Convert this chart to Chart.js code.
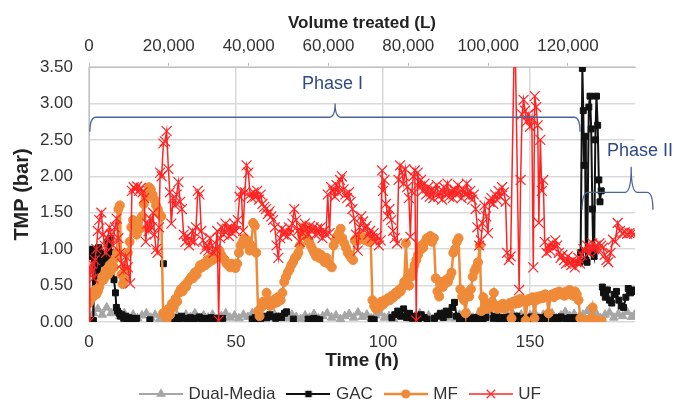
<!DOCTYPE html>
<html>
<head>
<meta charset="utf-8">
<script src="https://cdn.jsdelivr.net/npm/chart.js@4.4.0/dist/chart.umd.min.js"></script>
<style>
  html, body { margin: 0; padding: 0; background: #fff; }
  canvas { display: block; }
</style>
</head>
<body>
<canvas id="tmpChart" width="678" height="403"></canvas>
<script>
// [time (h), TMP (bar)]; null = gap in the series
const dualMedia = [
  [0,0.05],[1.5,0.12],[3,0.18],[4.5,0.10],[6,0.20],[7.5,0.12],[9,0.16],[10.5,0.08],[12,0.12],[13.5,0.06],
  [15,0.10],[16.5,0.05],[18,0.09],[19.5,0.12],[21,0.06],[22.5,0.10],[24,0.04],[25.5,0.08],[27,0.12],[28.5,0.06],
  [30,0.09],[31.5,0.05],[33,0.10],[34.5,0.07],[36,0.12],[37.5,0.05],[39,0.09],[40.5,0.06],[42,0.10],[43.5,0.04],
  [45,0.08],[46.5,0.12],[48,0.06],[49.5,0.09],[51,0.05],[52.5,0.10],[54,0.07],[55.5,0.12],[57,0.06],[58.5,0.09],
  [60,0.04],[61.5,0.08],[63,0.11],[64.5,0.06],[66,0.09],[67.5,0.05],[69,0.10],[70.5,0.07],[72,0.04],[73.5,0.09],
  [75,0.06],[76.5,0.11],[78,0.05],[79.5,0.08],[81,0.12],[82.5,0.06],[84,0.09],[85.5,0.04],[87,0.08],[88.5,0.11],
  [90,0.06],[91.5,0.13],[93,0.07],[94.5,0.10],[96,0.05],[97.5,0.09],[99,0.12],[100.5,0.06],[102,0.08],[103.5,0.04],
  [105,0.10],[106.5,0.07],[108,0.11],[109.5,0.05],[111,0.08],[112.5,0.12],[114,0.06],[115.5,0.09],[117,0.04],[118.5,0.08],
  [120,0.11],[121.5,0.06],[123,0.09],[124.5,0.05],[126,0.10],[127.5,0.07],[129,0.12],[130.5,0.06],[132,0.08],[133.5,0.04],
  [135,0.09],[136.5,0.12],[138,0.06],[139.5,0.10],[141,0.05],[142.5,0.08],[144,0.12],[145.5,0.07],[147,0.10],[148.5,0.05],
  [150,0.09],[151.5,0.13],[153,0.06],[154.5,0.10],[156,0.07],[157.5,0.12],[159,0.05],[160.5,0.09],[162,0.14],[163.5,0.08],
  [165,0.11],[166.5,0.06],[168,0.10],[169.5,0.15],[171,0.07],[172.5,0.12],[174,0.05],[175.5,0.10],[177,0.13],[178.5,0.06],
  [180,0.11],[181.5,0.08],[183,0.14],[184.5,0.07],[185.5,0.10]
];

const gac = [
  [0.0,0.95],[0.4,0.98],[0.8,0.90],[1.2,1.00],[1.5,0.02],[1.8,0.85],[2.2,0.95],[2.6,0.58],[3.0,0.50],[3.3,1.02],
  [3.7,0.60],[4.1,0.95],[4.5,0.85],[5.0,0.80],[5.5,0.88],[6.0,0.82],[6.4,1.10],[6.8,0.90],[7.2,1.15],[7.6,0.95],
  [8.0,0.82],[8.5,0.58],[9.0,0.40],[9.3,0.20],[9.7,0.15],[10.2,0.12],[10.7,0.08],[11.2,0.10],[11.8,0.05],[12.4,0.08],
  [13.0,0.04],[13.6,0.06],[14.3,0.03],[15.0,0.05],[15.6,0.03],[16.2,0.05],[18.0,null],[20.7,0.03],[22.0,null],[25.3,0.80],
  [26.5,null],[27.5,0.05],[28.5,0.03],[29.5,0.06],[30.5,0.04],[31.5,0.08],[32.5,0.05],[33.5,0.03],[34.5,0.06],[35.5,0.04],
  [36.5,0.05],[37.5,0.07],[38.5,0.04],[39.5,0.05],[40.5,0.03],[41.5,0.06],[42.5,0.04],[43.5,0.05],[44.5,0.03],[45.5,0.05],
  [50.0,null],[55.5,0.04],[56.5,0.06],[57.5,0.03],[58.5,0.05],[59.5,0.08],[60.5,0.06],[61.5,0.10],[62.5,0.07],[63.5,0.05],
  [64.5,0.08],[65.5,0.06],[66.5,0.12],[67.2,0.14],[68.0,null],[69.5,0.04],[71.0,null],[74.5,0.04],[75.5,0.03],[76.5,0.05],
  [77.5,0.04],[78.5,0.03],[85.0,null],[96.0,0.04],[97.0,0.03],[99.0,null],[103.0,0.06],[104.0,0.10],[105.0,0.15],[106.0,0.08],
  [107.0,0.18],[108.0,0.06],[109.0,0.12],[110.0,0.05],[111.0,0.08],[112.0,0.04],[113.0,0.10],[114.0,0.06],[115.0,0.04],[116.0,null],
  [117.5,0.05],[118.5,0.08],[119.5,0.12],[120.5,0.06],[121.5,0.15],[122.5,0.10],[123.5,0.20],[124.3,0.27],[125.0,0.08],[126.0,0.04],
  [127.0,0.06],[128.0,0.03],[129.0,0.05],[130.0,0.04],[131.0,0.06],[132.0,0.03],[133.0,0.05],[134.0,0.04],[135.0,0.06],[136.4,0.20],
  [137.5,0.05],[138.5,0.08],[139.5,0.04],[140.5,0.06],[141.5,0.03],[142.5,0.07],[143.5,0.05],[144.5,0.04],[145.5,0.08],[146.5,0.05],
  [147.5,0.03],[148.5,0.06],[149.5,0.04],[150.5,0.07],[151.5,0.05],[152.5,0.03],[153.5,0.06],[154.5,0.04],[155.5,0.08],[156.5,0.05],
  [157.5,0.03],[158.5,0.06],[159.5,0.04],[160.5,0.07],[161.5,0.05],[162.5,0.03],[163.5,0.06],[164.5,0.04],[165.5,0.06],[166.3,0.04],
  [166.6,null],[166.8,0.82],[167.2,0.95],[167.8,3.48],[168.1,2.90],[168.4,2.15],[168.7,2.55],[169.0,0.85],[169.4,0.82],[170.0,2.95],
  [170.4,3.10],[170.8,2.65],[171.2,1.55],[171.5,0.95],[171.8,0.90],[172.2,2.50],[172.6,3.10],[173.0,2.70],[173.4,1.95],[173.8,1.65],
  [174.2,1.80],[174.4,null],[174.6,0.48],[175.0,0.40],[175.6,0.34],[176.3,0.44],[177.0,0.30],[177.8,0.26],[178.6,0.38],[179.4,0.42],
  [180.2,0.30],[181.0,0.22],[181.8,0.20],[182.6,0.34],[183.4,0.46],[184.2,0.40],[185.0,0.44],[185.6,0.42]
];

const mf = [
  [0.0,0.26],[0.5,0.30],[1.0,0.40],[1.5,0.35],[2.0,0.44],[2.5,0.38],[3.0,0.42],[3.5,0.48],[4.0,0.55],[4.5,0.62],
  [5.0,0.58],[5.5,0.68],[6.0,0.72],[6.5,0.65],[7.0,0.78],[7.5,0.70],[8.0,0.82],[8.5,0.75],[9.0,0.88],[9.5,0.95],
  [10.0,1.55],[10.5,1.60],[11.0,0.65],[11.5,0.52],[12.0,0.58],[12.6,0.72],[13.2,0.95],[13.8,1.10],[14.4,1.30],[15.0,1.40],
  [15.6,1.32],[16.2,1.20],[16.8,1.38],[17.4,1.28],[18.0,1.45],[18.6,1.62],[19.2,1.70],[19.8,1.78],[20.4,1.85],[21.0,1.82],
  [21.6,1.75],[22.2,1.68],[22.8,1.60],[23.4,1.55],[24.0,1.48],[24.6,1.45],[25.2,0.12],[25.8,0.08],[26.4,0.03],[27.0,0.18],
  [27.6,0.10],[28.2,0.25],[28.8,0.20],[29.4,0.32],[30.0,0.28],[30.6,0.40],[31.2,0.45],[31.8,0.42],[32.4,0.50],[33.0,0.48],
  [33.6,0.55],[34.2,0.58],[34.8,0.62],[35.4,0.60],[36.0,0.68],[36.6,0.65],[37.2,0.72],[37.8,0.78],[38.4,0.75],[39.0,0.80],
  [39.6,0.78],[40.2,0.85],[40.8,0.82],[41.4,0.88],[42.0,0.85],[42.6,0.92],[43.2,0.88],[43.8,0.95],[44.4,0.98],[45.0,0.92],
  [45.6,0.88],[46.2,0.85],[46.8,0.80],[47.4,0.78],[48.0,0.75],[48.6,0.80],[49.2,0.76],[49.8,0.74],[50.4,0.80],[51.0,0.95],
  [51.6,1.05],[52.2,1.10],[52.8,1.15],[53.4,1.08],[54.0,1.12],[54.6,0.98],[55.2,1.05],[55.8,1.36],[56.4,1.32],[56.9,0.95],
  [57.5,0.15],[58.0,0.08],[58.6,0.20],[59.2,0.28],[59.8,0.25],[60.4,0.40],[61.0,0.30],[61.6,0.22],[62.2,0.28],[62.8,0.25],
  [63.4,0.32],[64.0,0.27],[64.6,0.35],[65.2,0.30],[65.8,0.40],[66.4,0.55],[67.0,0.62],[67.6,0.68],[68.2,0.72],[68.8,0.78],
  [69.4,0.82],[70.0,0.88],[70.6,0.90],[71.2,0.95],[71.8,1.05],[72.4,1.20],[73.0,1.30],[73.6,1.22],[74.2,1.15],[74.8,1.10],
  [75.4,1.05],[76.0,1.00],[76.6,0.95],[77.2,0.90],[77.8,0.95],[78.4,0.88],[79.0,0.92],[79.6,0.85],[80.2,0.82],[80.8,0.88],
  [81.4,0.80],[82.0,0.78],[82.6,0.75],[83.2,1.05],[83.8,1.12],[84.4,1.18],[85.0,1.22],[85.6,1.28],[86.2,1.15],[86.8,1.08],
  [87.4,1.02],[88.0,0.95],[88.6,0.92],[89.2,0.88],[89.8,0.85],[90.4,1.12],[91.0,1.15],[91.6,1.12],[92.2,1.18],[92.8,1.14],
  [93.4,1.16],[94.0,1.12],[94.6,1.15],[95.2,1.10],[95.8,1.12],[96.4,0.30],[97.0,0.22],[97.6,0.18],[98.2,0.25],[98.8,0.20],
  [99.4,0.28],[100.0,0.24],[100.6,0.30],[101.2,0.28],[101.8,0.33],[102.4,0.30],[103.0,0.36],[103.6,0.34],[104.2,0.40],[104.8,0.38],
  [105.4,0.44],[106.0,0.42],[106.6,0.48],[107.2,0.55],[107.8,1.08],[108.3,0.60],[108.9,0.50],[109.5,0.62],[110.1,0.70],[110.7,0.78],
  [111.3,0.85],[111.9,0.92],[112.5,0.98],[113.1,1.05],[113.7,1.02],[114.3,1.10],[114.9,1.15],[115.5,1.12],[116.1,1.18],[116.7,1.10],
  [117.3,1.15],[117.9,0.60],[118.5,0.42],[119.1,0.35],[119.7,0.55],[120.3,0.48],[120.9,0.52],[121.5,0.58],[122.1,0.55],[122.7,0.62],
  [123.3,0.68],[123.9,0.95],[124.5,1.00],[125.1,1.10],[125.7,1.15],[126.3,0.45],[126.9,0.35],[127.5,0.30],[128.1,0.12],[128.7,0.40],
  [129.3,0.35],[129.9,0.45],[130.5,0.62],[131.1,0.70],[131.7,0.75],[132.3,0.82],[132.9,1.05],[133.5,0.15],[134.1,0.34],[134.7,0.22],
  [135.3,0.18],[135.9,0.25],[136.5,0.20],[137.1,0.28],[137.7,0.40],[138.3,0.22],[138.9,0.18],[139.5,0.22],[140.1,0.20],[140.7,0.25],
  [141.3,0.18],[141.9,0.24],[142.5,0.22],[143.1,0.26],[143.7,0.05],[144.3,0.28],[144.9,0.25],[145.5,0.30],[146.1,0.26],[146.7,0.32],
  [147.3,0.28],[147.9,0.30],[148.5,0.02],[149.1,0.28],[149.7,0.32],[150.3,0.30],[150.9,0.34],[151.5,0.05],[152.1,0.30],[152.7,0.35],
  [153.3,0.32],[153.9,0.36],[154.5,0.33],[155.1,0.38],[155.7,0.35],[156.3,0.12],[156.9,0.36],[157.5,0.38],[158.1,0.34],[158.7,0.40],
  [159.3,0.37],[159.9,0.42],[160.5,0.38],[161.1,0.40],[161.7,0.36],[162.3,0.42],[162.9,0.38],[163.5,0.44],[164.1,0.40],[164.7,0.36],
  [165.3,0.42],[165.9,0.38],[166.5,0.30],[167.1,0.05],[167.7,0.02],[168.3,0.00],[168.9,0.02],[169.5,0.00],[170.1,0.02],[170.7,0.05],
  [171.3,0.20],[171.9,0.03],[172.5,0.00],[173.1,0.02],[173.7,0.00],[174.3,0.02]
];

const uf = [
  [0.0,0.00],[0.3,0.75],[0.6,0.68],[1.0,0.80],[1.5,0.60],[2.0,0.85],[2.5,1.00],[3.0,1.25],[3.5,1.40],[4.2,1.50],
  [4.8,1.20],[5.3,1.05],[5.8,0.95],[6.3,1.15],[7.0,1.30],[7.5,1.20],[8.2,1.05],[8.8,1.30],[9.4,1.42],[10.0,1.15],
  [10.6,0.95],[11.2,0.80],[11.8,0.70],[12.5,0.90],[13.2,0.75],[14.0,0.53],[14.6,1.80],[15.2,1.85],[15.8,1.82],[16.4,1.86],
  [17.0,1.80],[17.6,1.84],[18.2,1.78],[18.8,1.70],[19.3,1.10],[19.8,1.35],[20.3,1.25],[20.8,1.42],[21.3,1.30],[21.8,1.50],
  [22.3,1.20],[22.8,1.00],[23.3,0.95],[23.8,1.30],[24.2,2.05],[24.7,2.00],[25.3,2.45],[25.8,2.48],[26.4,2.62],[27.0,2.10],
  [27.5,1.78],[28.0,1.35],[28.6,1.70],[29.2,1.60],[29.8,1.75],[30.4,1.92],[31.0,1.65],[31.6,1.55],[32.2,1.20],[32.8,1.10],
  [33.4,1.18],[34.0,1.05],[34.6,1.12],[35.2,1.25],[35.8,1.10],[36.4,1.30],[37.0,1.80],[37.6,1.75],[38.2,1.25],[38.8,1.12],
  [39.4,1.00],[40.0,1.05],[40.6,0.98],[41.2,1.15],[41.8,1.05],[42.4,0.95],[43.0,1.00],[43.6,1.25],[44.1,0.02],[44.6,1.15],
  [45.2,1.30],[45.8,1.20],[46.4,1.35],[47.0,1.28],[47.6,1.18],[48.2,1.30],[48.8,1.22],[49.4,1.35],[50.0,1.25],[50.6,1.40],
  [51.2,1.72],[51.8,1.80],[52.4,1.25],[53.0,1.78],[53.6,2.15],[54.2,2.05],[54.8,1.75],[55.4,1.70],[56.0,1.78],[56.6,1.72],
  [57.2,1.80],[57.8,1.68],[58.4,1.75],[59.0,1.62],[59.6,1.58],[60.2,1.55],[60.8,1.48],[61.4,1.52],[62.0,1.45],[62.6,1.40],
  [63.2,1.30],[63.8,1.05],[64.4,0.88],[65.0,1.15],[65.6,1.28],[66.2,1.20],[66.8,1.25],[67.4,1.18],[68.0,1.30],[68.6,1.22],
  [69.2,1.35],[69.8,1.55],[70.4,1.40],[71.0,1.25],[71.6,1.10],[72.2,1.30],[72.8,1.22],[73.4,1.35],[74.0,1.28],[74.6,1.20],
  [75.2,1.32],[75.8,1.25],[76.4,1.30],[77.0,1.20],[77.6,1.28],[78.2,1.22],[78.8,1.30],[79.4,1.15],[80.0,1.25],[80.6,1.20],
  [81.2,1.75],[81.8,1.22],[82.4,1.85],[83.0,1.80],[83.6,1.72],[84.2,1.88],[84.8,1.78],[85.4,1.95],[86.0,2.00],[86.6,1.82],
  [87.2,1.75],[87.8,1.70],[88.4,1.78],[89.0,1.65],[89.6,1.55],[90.2,1.42],[90.8,1.20],[91.4,0.98],[92.0,1.30],[92.6,1.45],
  [93.2,1.38],[93.8,1.28],[94.4,1.32],[95.0,1.20],[95.6,1.25],[96.2,1.15],[96.8,1.22],[97.4,1.10],[98.0,1.18],[98.6,1.05],
  [99.2,1.12],[99.7,2.08],[100.0,1.80],[100.5,1.95],[101.0,1.62],[101.6,1.45],[102.2,1.55],[102.8,1.40],[103.4,1.25],[104.0,1.15],
  [104.8,1.08],[105.3,1.95],[105.8,2.15],[106.4,2.05],[107.0,1.90],[107.6,2.10],[108.2,1.85],[108.8,1.70],[109.3,1.17],[109.8,1.80],
  [110.3,2.00],[110.8,2.08],[111.3,0.02],[111.8,2.05],[112.3,1.85],[112.9,1.95],[113.5,1.80],[114.1,1.90],[114.7,1.75],[115.3,1.85],
  [115.9,1.72],[116.5,1.82],[117.1,1.70],[117.7,1.80],[118.3,1.88],[118.9,1.72],[119.5,1.78],[120.1,1.68],[120.7,1.85],[121.3,1.75],
  [121.9,1.90],[122.5,1.72],[123.1,1.80],[123.7,1.70],[124.3,1.82],[124.9,1.75],[125.5,1.88],[126.1,1.78],[126.7,1.70],[127.3,1.82],
  [127.9,1.75],[128.5,1.90],[129.1,1.72],[129.7,1.80],[130.3,1.68],[130.9,1.75],[131.5,1.55],[132.1,1.30],[132.7,1.05],[133.3,1.12],
  [133.9,1.35],[134.5,1.60],[135.1,1.45],[135.7,1.22],[136.3,1.65],[136.9,1.70],[137.5,1.62],[138.1,1.75],[138.7,1.68],[139.3,1.80],
  [139.9,1.72],[140.5,1.85],[141.1,1.78],[141.7,1.65],[142.2,0.95],[142.8,0.85],[143.4,0.90],[144.8,4.20],[146.3,0.44],[146.8,1.95],
  [147.3,2.85],[147.8,3.05],[148.3,2.90],[148.8,2.75],[149.4,2.85],[150.0,2.68],[150.6,2.80],[151.1,0.75],[151.6,3.10],[152.1,2.95],
  [152.6,2.70],[153.0,1.36],[153.5,2.50],[154.0,1.80],[154.5,1.95],[155.0,1.10],[155.6,0.95],[156.2,1.05],[156.8,0.98],[157.4,1.08],
  [158.0,1.02],[158.6,1.12],[159.2,1.05],[159.8,0.95],[160.4,0.88],[161.0,0.92],[161.6,0.85],[162.2,0.80],[162.8,0.90],[163.4,0.82],
  [164.0,0.78],[164.6,0.85],[165.2,0.75],[165.8,0.82],[166.4,0.88],[167.0,0.80],[167.6,0.92],[168.2,1.00],[168.8,0.98],[169.4,1.05],
  [170.0,0.95],[170.6,1.02],[171.2,1.08],[171.8,1.00],[172.4,1.05],[173.0,0.98],[173.6,1.08],[174.2,1.05],[174.8,1.02],[175.4,0.92],
  [176.0,0.85],[176.6,0.82],[177.4,0.95],[178.2,1.13],[179.0,1.10],[179.8,1.36],[180.6,1.25],[181.4,1.22],[182.2,1.23],[183.0,1.21],
  [183.8,1.22],[184.6,1.22],[185.4,1.21]
];

const volumeTicks = [0, 20000, 40000, 60000, 80000, 100000, 120000];

// bracket annotations (axis units)
const phases = [
  { label: 'Phase I', from: 0.3, to: 167, tip: 83.7, line: 2.81, end: 2.61, top: 3.0, textT: 82.8, textV: 3.27 },
  { label: 'Phase II', from: 167.7, to: 191.8, tip: 184.4, line: 1.78, end: 1.54, top: 2.13, textT: 187.4, textV: 2.35 }
];

const FONT = '"Liberation Sans", Arial, sans-serif';
const toXY = arr => arr.map(p => ({ x: p[0], y: p[1] }));

// legend swatch: line with marker through the middle, like Excel
function legendIcon(color, style, radius, lineWidth) {
  const c = document.createElement('canvas');
  c.width = 44; c.height = 14;
  const g = c.getContext('2d');
  g.strokeStyle = color; g.fillStyle = color; g.lineWidth = lineWidth;
  g.beginPath(); g.moveTo(0, 7); g.lineTo(44, 7); g.stroke();
  g.lineWidth = 1.2;
  Chart.helpers.drawPoint(g, { pointStyle: style, radius: radius, rotation: 0, borderWidth: 1.2 }, 22, 7);
  return c;
}

const phasePlugin = {
  id: 'phases',
  afterDraw(chart) {
    const { ctx, scales: { x, y } } = chart;
    ctx.save();
    phases.forEach(p => {
      const x1 = x.getPixelForValue(p.from), x2 = x.getPixelForValue(p.to), xm = x.getPixelForValue(p.tip);
      const yl = y.getPixelForValue(p.line), ye = y.getPixelForValue(p.end), yt = y.getPixelForValue(p.top);
      const r = 6;
      ctx.strokeStyle = '#4a6498';
      ctx.lineWidth = 1.3;
      ctx.beginPath();
      ctx.moveTo(x1, ye);
      ctx.quadraticCurveTo(x1, yl, x1 + r, yl);
      ctx.lineTo(xm - r, yl);
      ctx.quadraticCurveTo(xm, yl, xm, yt);
      ctx.quadraticCurveTo(xm, yl, xm + r, yl);
      ctx.lineTo(x2 - r, yl);
      ctx.quadraticCurveTo(x2, yl, x2, ye);
      ctx.stroke();
      ctx.fillStyle = '#2f4a85';
      ctx.font = '18px ' + FONT;
      ctx.textAlign = 'center';
      ctx.textBaseline = 'middle';
      ctx.fillText(p.label, x.getPixelForValue(p.textT), y.getPixelForValue(p.textV));
    });
    ctx.restore();
  }
};

// nudge legend so it sits centred under the figure, not the padded area
const legendShift = {
  id: 'legendShift',
  afterLayout(chart) {
    chart.legend.left += 24;
    chart.legend.right += 24;
  }
};

const gridColor = '#d9d9d9';
const axisColor = '#bfbfbf';
const tickColor = '#333333';

const series = [
  { label: 'Dual-Media', data: dualMedia, color: '#a6a6a6', style: 'triangle', radius: 5, width: 2, order: 4 },
  { label: 'GAC', data: gac, color: '#111111', style: 'rect', radius: 4.2, width: 2, order: 3 },
  { label: 'MF', data: mf, color: '#ef8a39', style: 'circle', radius: 4.5, width: 2.5, order: 2 },
  { label: 'UF', data: uf, color: '#ff2424', style: 'crossRot', radius: 7, width: 1.5, order: 1 }
];

const icons = series.map(s => legendIcon(s.color, s.style, s.style === 'crossRot' ? 6 : s.radius - 0.5, s.width));

new Chart(document.getElementById('tmpChart').getContext('2d'), {
  type: 'scatter',
  data: {
    datasets: series.map(s => ({
      label: s.label,
      data: toXY(s.data),
      showLine: true,
      tension: 0,
      borderColor: s.color,
      backgroundColor: s.color,
      borderWidth: s.width,
      pointStyle: s.style,
      pointRadius: s.radius,
      pointBorderWidth: s.style === 'crossRot' ? 1.2 : 1,
      pointBackgroundColor: s.color,
      pointBorderColor: s.color,
      spanGaps: false,
      order: s.order
    }))
  },
  options: {
    responsive: false,
    animation: false,
    layout: { padding: { left: 0, right: 43, top: 0, bottom: -9.5 } },
    plugins: {
      tooltip: { enabled: false },
      legend: {
        position: 'bottom',
        labels: {
          usePointStyle: true,
          pointStyleWidth: 38,
          boxHeight: 14,
          padding: 14,
          color: tickColor,
          font: { family: FONT, size: 17 },
          generateLabels: chart => series.map((s, i) => ({
            text: s.label,
            pointStyle: icons[i],
            fillStyle: s.color,
            strokeStyle: s.color,
            lineWidth: 0,
            hidden: false,
            datasetIndex: i,
            fontColor: tickColor
          }))
        }
      }
    },
    scales: {
      x: {
        type: 'linear',
        position: 'bottom',
        min: 0,
        max: 185.7,
        ticks: { stepSize: 50, includeBounds: false, padding: 10, maxRotation: 0, color: tickColor, font: { family: FONT, size: 17 } },
        grid: { color: gridColor, lineWidth: 1.5, drawTicks: false },
        border: { display: false },
        title: { display: true, text: 'Time (h)', color: '#222', font: { family: FONT, size: 19, weight: 'bold' }, padding: { top: 0, bottom: -1 } },
        afterFit: s => { s.height = 49.5; }
      },
      x2: {
        type: 'linear',
        position: 'top',
        min: 0,
        max: 136800,
        afterBuildTicks: s => { s.ticks = volumeTicks.map(v => ({ value: v })); },
        ticks: {
          autoSkip: false, maxRotation: 0, minRotation: 0, padding: 6, color: tickColor,
          font: { family: FONT, size: 17 },
          callback: v => v.toLocaleString('en-US')
        },
        grid: { drawOnChartArea: false, drawTicks: true, tickLength: 4, color: axisColor },
        border: { display: true, color: axisColor },
        title: { display: true, text: 'Volume treated (L)', color: '#222', font: { family: FONT, size: 17, weight: 'bold' }, padding: { top: 13, bottom: 0 } },
        afterFit: s => { s.height = 67; }
      },
      y: {
        min: 0,
        max: 3.5,
        ticks: { stepSize: 0.5, padding: 16, color: tickColor, font: { family: FONT, size: 17 }, callback: v => v.toFixed(2) },
        grid: { color: gridColor, lineWidth: 1.5, drawTicks: false },
        border: { display: true, color: axisColor },
        title: { display: true, text: 'TMP (bar)', color: '#222', font: { family: FONT, size: 20, weight: 'bold' }, padding: { top: 10, bottom: 0 } },
        afterFit: s => { s.width = 89; }
      }
    }
  },
  plugins: [phasePlugin, legendShift]
});
</script>
</body>
</html>
